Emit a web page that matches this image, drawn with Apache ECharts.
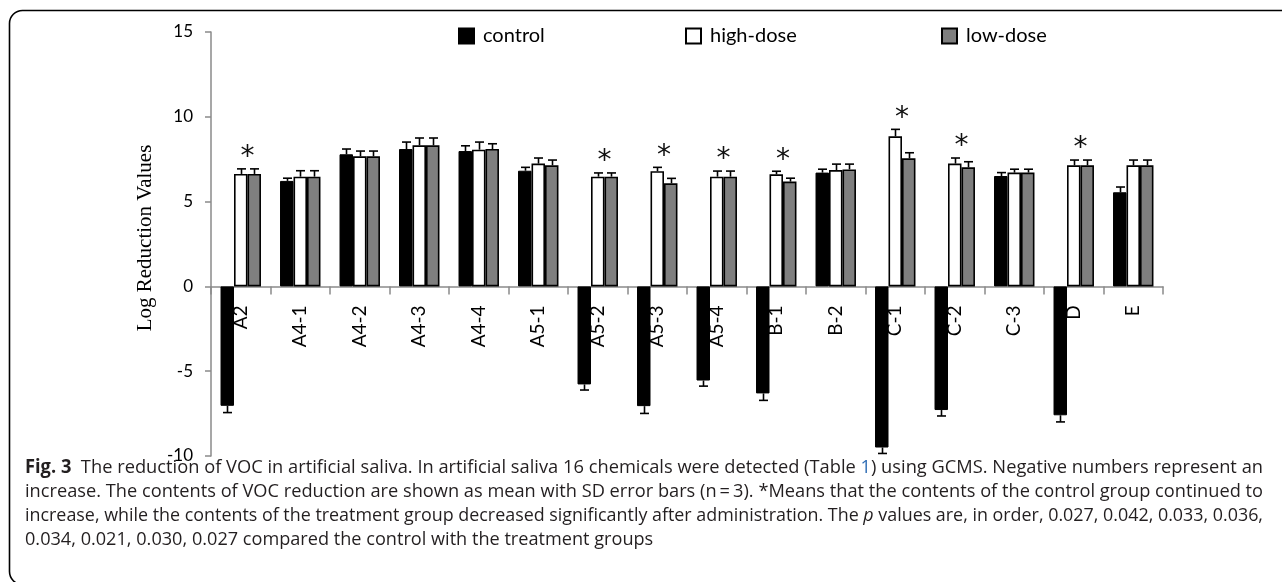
<!DOCTYPE html>
<html><head><meta charset="utf-8">
<script src="https://cdn.jsdelivr.net/npm/echarts@6/dist/echarts.min.js"></script>
<style>html,body{margin:0;padding:0;background:#fff}#c{width:1282px;height:582px}</style>
</head><body><div id="c"></div>
<script>
// ---------- data ----------
const categories = ['A2','A4-1','A4-2','A4-3','A4-4','A5-1','A5-2','A5-3','A5-4','B-1','B-2','C-1','C-2','C-3','D','E'];
const controlMean = [-7.04, 6.22, 7.79, 8.10, 7.98, 6.82, -5.78, -7.06, -5.55, -6.31, 6.71, -9.50, -7.29, 6.51, -7.60, 5.55];
const controlSD   = [ 0.40, 0.16, 0.31, 0.41, 0.31, 0.20,  0.33,  0.43,  0.33,  0.41, 0.20,  0.35,  0.35, 0.20,  0.39, 0.31];
const highMean    = [ 6.63, 6.47, 7.67, 8.32, 8.06, 7.24,  6.47,  6.79,  6.47,  6.61, 6.86,  8.85,  7.24, 6.71,  7.14, 7.14];
const highSD      = [ 0.30, 0.35, 0.31, 0.43, 0.45, 0.33,  0.22,  0.23,  0.33,  0.18, 0.35,  0.41,  0.33, 0.20,  0.31, 0.31];
const lowMean     = [ 6.63, 6.47, 7.67, 8.32, 8.10, 7.14,  6.47,  6.08,  6.47,  6.18, 6.90,  7.55,  7.02, 6.71,  7.14, 7.14];
const lowSD       = [ 0.30, 0.35, 0.31, 0.43, 0.31, 0.31,  0.22,  0.29,  0.33,  0.20, 0.31,  0.33,  0.33, 0.20,  0.31, 0.31];
const significant = ['A2','A5-2','A5-3','A5-4','B-1','C-1','C-2','D'];
const seriesNames = ['control','high-dose','low-dose'];
const yMin = -10, yMax = 15, yStep = 5;
const yAxisTitle = 'Log Reduction Values';
const captionLines = [
  '{b|Fig. 3}  The reduction of VOC in artificial saliva. In artificial saliva 16 chemicals were detected (Table {l|1}) using GCMS. Negative numbers represent an',
  'increase. The contents of VOC reduction are shown as mean with SD error bars (n\u2009=\u20093). *Means that the contents of the control group continued to',
  'increase, while the contents of the treatment group decreased significantly after administration. The {i|p} values are, in order, 0.027, 0.042, 0.033, 0.036,',
  '0.034, 0.021, 0.030, 0.027 compared the control with the treatment groups'
];

// ---------- styling / layout ----------
const CAT_GAP = 0.32;
const AXIS_GREY = '#8a8a8a';
const CAP_FONT = '"Open Sans", "Noto Sans", sans-serif';
const CAP_SIZE = 19;
const GRID = {left: 211, right: 119, top: 32, bottom: 126};
const PLOT_H = 582 - GRID.top - GRID.bottom;
const ZERO_FROM_BOTTOM = PLOT_H * (0 - yMin) / (yMax - yMin);

const chart = echarts.init(document.getElementById('c'), null, {renderer: 'canvas'});

function barOffset(api, idx) {
  const band = api.size([1, 0])[0];
  const w = band * (1 - CAT_GAP) / 3;
  return {w: w, off: (idx - 1) * w};
}

function errSeries(name, means, sds, idx) {
  return {
    type: 'custom', name: name, z: 6, silent: true,
    data: means.map((m, i) => [i, m, sds[i]]),
    encode: {x: 0, y: 1},
    renderItem: function (params, api) {
      const lay = barOffset(api, idx);
      const m = api.value(1), s = api.value(2);
      const sign = m >= 0 ? 1 : -1;
      const p0 = api.coord([api.value(0), m]);
      const p1 = api.coord([api.value(0), m + sign * s]);
      const x = Math.round(p0[0] + lay.off) + 0.5;
      const half = 4.5;
      const st = {stroke: '#000', lineWidth: 1.6};
      return {type: 'group', children: [
        {type: 'line', shape: {x1: x, y1: p0[1], x2: x, y2: p1[1]}, style: st},
        {type: 'line', shape: {x1: x - half, y1: p1[1], x2: x + half, y2: p1[1]}, style: st}
      ]};
    }
  };
}

const starData = significant.map(c => {
  const i = categories.indexOf(c);
  return [i, Math.max(highMean[i] + highSD[i], lowMean[i] + lowSD[i])];
});

const starSeries = {
  type: 'custom', name: 'sig', z: 7, silent: true,
  data: starData, encode: {x: 0, y: 1},
  renderItem: function (params, api) {
    const lay = barOffset(api, 1);
    const p = api.coord([api.value(0), api.value(1)]);
    return {
      type: 'text',
      x: p[0] + lay.w / 2, y: p[1] + 3,
      style: {text: '*', textAlign: 'center', textVerticalAlign: 'bottom',
        font: '28px "DejaVu Sans"', fill: '#111'}
    };
  }
};

function legendAt(name, left) {
  return {
    data: [name], left: left, top: 26, padding: 0,
    itemWidth: 15, itemHeight: 15, icon: 'rect',
    textStyle: {fontFamily: 'Lato', fontSize: 20, color: '#000', lineHeight: 19, padding: [0, 0, 0, 4]},
    selectedMode: false
  };
}

// caption measurement for justification
const mctx = document.createElement('canvas').getContext('2d');
function measureLine(str) {
  let total = 0;
  const re = /\{(\w)\|([^}]*)\}/g;
  let last = 0, m;
  const segs = [];
  while ((m = re.exec(str)) !== null) {
    if (m.index > last) segs.push(['', str.slice(last, m.index)]);
    segs.push([m[1], m[2]]);
    last = re.lastIndex;
  }
  if (last < str.length) segs.push(['', str.slice(last)]);
  segs.forEach(s => {
    const w = s[0] === 'b' ? 'bold ' : '';
    const it = s[0] === 'i' ? 'italic ' : '';
    mctx.font = it + w + CAP_SIZE + 'px ' + CAP_FONT;
    total += mctx.measureText(s[1]).width;
  });
  return total;
}
const capLeft = 25, capRight = 1263;
const scales = captionLines.map((l, k) => k < 3 ? (capRight - capLeft) / measureLine(l) : null);
const avgScale = (scales[0] + scales[1] + scales[2]) / 3;
const capTop = 468, capStep = 24;
const captionGraphics = captionLines.map((l, k) => ({
  type: 'text', x: capLeft, y: capTop + k * capStep,
  scaleX: k < 3 ? scales[k] : avgScale, originX: 0, originY: 0,
  style: {
    text: l, fill: '#231f20', font: CAP_SIZE + 'px ' + CAP_FONT,
    textVerticalAlign: 'middle', textAlign: 'left',
    rich: {
      b: {fontWeight: 'bold', fontSize: CAP_SIZE, fontFamily: CAP_FONT, fill: '#231f20'},
      l: {fontSize: CAP_SIZE, fontFamily: CAP_FONT, fill: '#2f6db5'},
      i: {fontStyle: 'italic', fontSize: CAP_SIZE, fontFamily: CAP_FONT, fill: '#231f20'}
    }
  }
}));

const option = {
  animation: false,
  backgroundColor: '#fff',
  grid: {left: GRID.left, right: GRID.right, top: GRID.top, bottom: GRID.bottom, containLabel: false},
  legend: [legendAt(seriesNames[0], 458), legendAt(seriesNames[1], 685), legendAt(seriesNames[2], 941)],
  xAxis: {
    type: 'category', data: categories,
    axisLine: {onZero: true, lineStyle: {color: AXIS_GREY, width: 1.5}},
    axisTick: {show: true, length: 8, lineStyle: {color: AXIS_GREY, width: 1.5}},
    axisLabel: {rotate: 90, margin: 19 - ZERO_FROM_BOTTOM, fontFamily: 'Lato', fontSize: 19, color: '#000', interval: 0},
    splitLine: {show: false}
  },
  yAxis: {
    type: 'value', min: yMin, max: yMax, interval: yStep,
    name: yAxisTitle, nameLocation: 'middle', nameGap: 46,
    nameTextStyle: {fontFamily: '"Liberation Serif", "Times New Roman", serif', fontSize: 21, color: '#000', padding: [0, 0, 0, 12]},
    axisLine: {show: true, lineStyle: {color: AXIS_GREY, width: 1.5}},
    axisTick: {show: true, length: 6, lineStyle: {color: AXIS_GREY, width: 1.5}},
    axisLabel: {fontFamily: 'Lato', fontSize: 17, color: '#000', margin: 18},
    splitLine: {show: false}
  },
  series: [
    {type: 'bar', name: seriesNames[0], data: controlMean, barGap: '0%', barCategoryGap: (CAT_GAP * 100) + '%',
      itemStyle: {color: '#000', borderColor: '#000', borderWidth: 1}},
    {type: 'bar', name: seriesNames[1], data: highMean, barGap: '0%', barCategoryGap: (CAT_GAP * 100) + '%',
      itemStyle: {color: '#fff', borderColor: '#000', borderWidth: 1.6}},
    {type: 'bar', name: seriesNames[2], data: lowMean, barGap: '0%', barCategoryGap: (CAT_GAP * 100) + '%',
      itemStyle: {color: '#7f7f7f', borderColor: '#000', borderWidth: 1.6}},
    errSeries('err-control', controlMean, controlSD, 0),
    errSeries('err-high', highMean, highSD, 1),
    errSeries('err-low', lowMean, lowSD, 2),
    starSeries
  ],
  graphic: [
    {type: 'rect', shape: {x: 9.5, y: 10.5, width: 1400, height: 574, r: 13},
      style: {fill: 'none', stroke: '#000', lineWidth: 1.6}, silent: true, z: 100}
  ].concat(captionGraphics)
};
chart.setOption(option);
</script>
</body></html>
